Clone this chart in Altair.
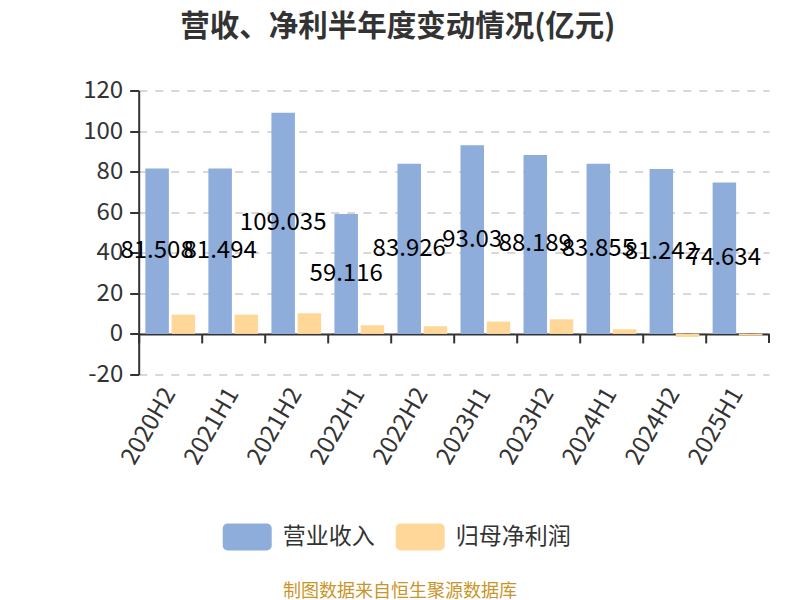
import altair as alt
import pandas as pd

periods = ["2020H2", "2021H1", "2021H2", "2022H1", "2022H2",
           "2023H1", "2023H2", "2024H1", "2024H2", "2025H1"]
revenue = [81.508, 81.494, 109.035, 59.116, 83.926, 93.03, 88.189, 83.855, 81.242, 74.634]
net_profit = [9.5, 9.5, 10.2, 4.3, 3.8, 6.1, 7.2, 2.3, -1.5, -0.8]
series = ["营业收入", "归母净利润"]
colors = ["#8EADDB", "#FFD899"]
y_ticks = [-20, 0, 20, 40, 60, 80, 100, 120]
title_text = "营收、净利半年度变动情况(亿元)"
source_text = "制图数据来自恒生聚源数据库"

rows = []
for p, r, n in zip(periods, revenue, net_profit):
    rows.append({"period": p, "series": series[0], "value": r})
    rows.append({"period": p, "series": series[1], "value": n})
df = pd.DataFrame(rows)
rev_df = pd.DataFrame({"period": periods, "series": [series[0]] * len(periods), "value": revenue})

FONT = "Noto Sans CJK SC"
W, H = 630.3, 284
ZERO_PX = H - H * 20 / 140
x_scale = alt.Scale(domain=periods, paddingInner=0, paddingOuter=0)
xo_scale = alt.Scale(domain=series, paddingInner=0.103, paddingOuter=0.254)
y_scale = alt.Scale(domain=[-20, 120], nice=False, zero=False)
y_axis = alt.Axis(values=y_ticks, title=None, grid=True, gridDash=[8, 8], gridColor="#cccccc",
                  gridWidth=1.5, domainColor="#333", domainWidth=2, tickColor="#333",
                  tickWidth=2, tickSize=9, labelFontSize=24, labelColor="#333",
                  labelPadding=7, labelFont=FONT, labelExpr="datum.value + ''")

legend_symbol = ("M-0.8,-0.55 H0.8 A0.2,0.2 0 0 1 1,-0.35 V0.35 A0.2,0.2 0 0 1 0.8,0.55 "
                 "H-0.8 A0.2,0.2 0 0 1 -1,0.35 V-0.35 A0.2,0.2 0 0 1 -0.8,-0.55 Z")

bars = alt.Chart(df).mark_bar().encode(
    x=alt.X("period:N", scale=x_scale, sort=periods,
            axis=alt.Axis(title=None, orient="bottom", labelAngle=-60, labelAlign="right",
                          labelBaseline="middle", labelFontSize=24, labelColor="#333",
                          labelPadding=15, domain=False, ticks=False, labelFont=FONT, grid=False)),
    xOffset=alt.XOffset("series:N", scale=xo_scale, sort=series),
    y=alt.Y("value:Q", scale=y_scale, axis=y_axis),
    y2=alt.datum(0),
    color=alt.Color("series:N", scale=alt.Scale(domain=series, range=colors), sort=series,
                    legend=alt.Legend(title=None, orient="none", legendX=84, legendY=422,
                                      direction="horizontal", symbolType=legend_symbol,
                                      symbolSize=2401, symbolStrokeWidth=0, symbolOpacity=1,
                                      labelFontSize=23, labelColor="#333", labelFont=FONT,
                                      labelOffset=11, columnPadding=21, padding=0)),
)

labels = alt.Chart(rev_df).transform_calculate(half="datum.value / 2").mark_text(
    fontSize=24, color="#000", font=FONT, align="center", baseline="middle"
).encode(
    x=alt.X("period:N", scale=x_scale, sort=periods,
            axis=alt.Axis(title=None, orient="bottom", offset=-H * 20 / 140, labels=False,
                          domain=True, ticks=True, bandPosition=0, tickSize=9, tickWidth=2,
                          tickColor="#333", domainColor="#333", domainWidth=2, grid=False)),
    xOffset=alt.XOffset("series:N", scale=xo_scale, sort=series),
    y=alt.Y("half:Q", scale=y_scale, axis=y_axis),
    text=alt.Text("value:Q"),
)

end_tick = alt.Chart(pd.DataFrame({"z": [0]})).mark_rule(color="#333", strokeWidth=2).encode(
    x=alt.value(W), y=alt.Y("z:Q", scale=y_scale, axis=y_axis), y2=alt.value(ZERO_PX + 9)
)

source = alt.Chart(pd.DataFrame({"t": [source_text]})).mark_text(
    fontSize=18, color="#c9952a", font=FONT, align="center", baseline="middle"
).encode(x=alt.value(261.3), y=alt.value(501), text="t:N")

chart = alt.layer(bars, labels, end_tick, source).resolve_axis(x="independent").properties(
    width=W, height=H,
    autosize=alt.AutoSizeParams(type="none"),
    padding={"left": 130.7, "top": 82.5, "right": 23, "bottom": 225.5},
    title=alt.TitleParams(title_text, fontSize=29.5, fontWeight="bold", color="#333", font=FONT,
                          anchor="middle", dx=-56, dy=-32),
).configure_view(stroke=None)

chart.save("out.html", embed_options={"renderer": "svg", "actions": False})
